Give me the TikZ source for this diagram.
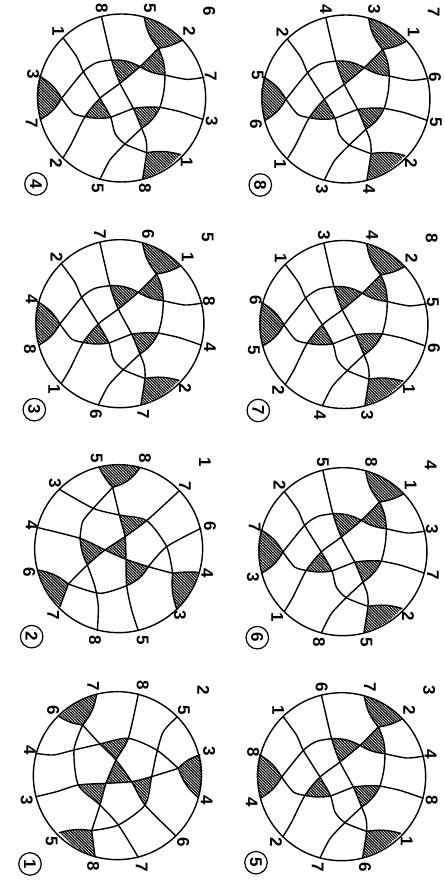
\documentclass[tikz,border=0pt]{standalone}
\usepackage{fontspec}
\setmainfont{Liberation Sans}
\usetikzlibrary{patterns.meta}
\tikzset{
  strand/.style={line width=1.4pt, line cap=round},
  rim/.style={line width=1.4pt},
  hatch/.style={pattern={Lines[angle=-45,distance=2pt,line width=1.15pt]}},
  lab/.style={rotate=-90, inner sep=0pt, font=\bfseries\fontsize{17}{17}\selectfont},
  badge/.style={draw, circle, line width=1.2pt, rotate=-90, inner sep=0pt, minimum size=22.5pt, font=\bfseries\fontsize{17}{17}\selectfont},
  panel/.style={x=.3333pt, y=-.3333pt},
  smooth/.append style={tension=.45}
}
\begin{document}
\begin{tikzpicture}[x=1pt, y=-1pt]
    \useasboundingbox (0,0) rectangle (444,885);

    % the six panels with one layout
    \foreach \sx/\sy/\la/\lb/\lc/\ld/\lf/\le/\lo/\num in {
        0/0/1/8/5/2/7/3/6/4, 224.3/1/2/4/3/1/6/5/7/8,
        -1.7/225.7/2/7/6/1/8/4/5/3, 222.3/226.5/1/3/4/2/5/6/8/7,
        221.3/453.7/2/5/8/1/3/7/4/6, 220/678.7/1/6/7/2/4/8/3/5} {
    \begin{scope}[shift={(\sx,\sy)}, panel]
        % strand ends
        \coordinate (a1) at (190,115); \coordinate (b1) at (305,52);
        \coordinate (c1) at (433,52); \coordinate (d1) at (548,120);
        \coordinate (f1) at (612,232); \coordinate (e1) at (608,358);
        \coordinate (a2) at (542,464); \coordinate (b2) at (428,536);
        \coordinate (c2) at (300,538); \coordinate (d2) at (190,472);
        \coordinate (f2) at (122,358); \coordinate (e2) at (118,228);

        % crossings
        \coordinate (ef) at (185,295); \coordinate (ad) at (300,295);
        \coordinate (af) at (250,215); \coordinate (de) at (255,350);
        \coordinate (ae) at (332,352); \coordinate (bf) at (335,180);
        \coordinate (df) at (420,200); \coordinate (bd) at (360,250);
        \coordinate (cf) at (495,225); \coordinate (cd) at (475,145);
        \coordinate (be) at (400,325); \coordinate (ce) at (480,322);
        \coordinate (bc) at (425,385); \coordinate (ac) at (375,432);
        \coordinate (ab) at (440,458);

        % shaded parts
        \fill[hatch] (e2) to[bend right=15] (f2) to[bend right=15] (ef) to[bend right=15] (e2);
        \fill[hatch] (de) to[bend right=10] (ae) -- (ad) -- (de);
        \fill[hatch] (bf) to[bend left=15] (df) -- (bd) -- (bf);
        \fill[hatch] (df) to[bend right=12] (cf) to[bend right=12] (cd) -- (df);
        \fill[hatch] (be) to[bend left=5] (ce) to[bend left=15] (bc) -- (be);
        \fill[hatch] (c1) to[bend left=15] (d1) to[bend left=10] (cd) to[bend left=15] (c1);
        \fill[hatch] (b2) to[bend right=15] (a2) to[bend right=12] (ab) -- (b2);

        % strands
        \draw[strand] plot[smooth] coordinates {(a1) (230,170) (af) (ad) (ae) (345,400) (ac) (ab)} (ab) to[bend left=12] (a2);
        \draw[strand] plot[smooth] coordinates {(b2) (ab) (438,420) (bc) (be) (bd) (bf) (b1)};
        \draw[strand] plot[smooth] coordinates {(c2) (330,480) (ac) (bc)} (bc) to[bend right=15] (ce) to[bend right=8] (cf) to[bend right=12] (cd) to[bend left=15] (c1);
        \draw[strand] (d1) to[bend left=10] (cd) plot[smooth] coordinates {(cd) (df) (bd) (ad) (de) (215,430) (d2)};
        \draw[strand] (e2) to[bend left=15] (ef) plot[smooth] coordinates {(ef) (220,340) (de)} (de) to[bend right=10] (ae) -- (be) to[bend left=5] (ce) plot[smooth] coordinates {(ce) (540,335) (e1)};
        \draw[strand] (f2) to[bend right=15] (ef) plot[smooth] coordinates {(ef) (af) (290,188) (bf)} (bf) to[bend left=15] (df) to[bend right=12] (cf) plot[smooth] coordinates {(cf) (560,238) (f1)};
        \draw[rim] (365,294) circle (252);

        % labels
        \node[lab] (la1) at (175,95) {\la};   \node[lab] (lb1) at (305,25) {\lb};
        \node[lab] (lc1) at (450,25) {\lc};   \node[lab] (ld1) at (568,95) {\ld};
        \node[lab] (lf1) at (632,228) {\lf};  \node[lab] (le1) at (635,365) {\le};
        \node[lab] (la2) at (560,487) {\la};  \node[lab] (lb2) at (435,565) {\lb};
        \node[lab] (lc2) at (293,565) {\lc};  \node[lab] (ld2) at (168,490) {\ld};
        \node[lab] (lf2) at (95,370) {\lf};   \node[lab] (le2) at (100,222) {\le};
        \node[lab] (lo) at (628,35) {\lo};
        \node[badge] (num) at (108,552) {\num};
    \end{scope}
    }

    % panel 2
    \begin{scope}[shift={(0,440)}, panel]
        \coordinate (tl) at (298,83); \coordinate (tr) at (420,83);
        \coordinate (a1) at (178,148); \coordinate (b1) at (535,155);
        \coordinate (c1) at (110,262); \coordinate (d1) at (603,265);
        \coordinate (d2) at (112,390); \coordinate (c2) at (595,397);
        \coordinate (b2) at (180,500); \coordinate (a2) at (530,507);
        \coordinate (bl) at (292,572); \coordinate (br) at (415,572);

        \coordinate (p1) at (338,142); \coordinate (p2) at (358,225);
        \coordinate (p3) at (440,242); \coordinate (p4) at (375,290);
        \coordinate (p5) at (315,330); \coordinate (p6) at (240,295);
        \coordinate (p7) at (262,375); \coordinate (p8) at (378,358);
        \coordinate (p9) at (445,380); \coordinate (p10) at (380,437);
        \coordinate (p11) at (518,400); \coordinate (p12) at (205,432);
        \coordinate (p13) at (500,320); \coordinate (p14) at (280,205);

        % shaded parts
        \fill[hatch] (tl) to[bend left=14] (tr) to[bend left=20] (p1) to[bend left=8] (tl);
        \fill[hatch] (p2) -- (p3) -- (p4) -- (p2);
        \fill[hatch] (p6) -- (p5) -- (p7) to[bend left=10] (p6);
        \fill[hatch] (p4) -- (p8) -- (p5) -- (p4);
        \fill[hatch] (p8) -- (p9) to[bend left=18] (p10) -- (p8);
        \fill[hatch] (p11) to[bend left=6] (c2) to[bend left=14] (a2) to[bend left=12] (p11);
        \fill[hatch] (d2) to[bend left=15] (p12) -- (b2) to[bend left=14] (d2);

        % strands
        \draw[strand] plot[smooth] coordinates {(a1) (p14) (p2) (p3) (p13) (p11)} (p11) to[bend right=12] (a2);
        \draw[strand] plot[smooth] coordinates {(b1) (p3) (p4) (p5) (p7) (p12)} (p12) -- (b2);
        \draw[strand] plot[smooth] coordinates {(c1) (p6) (p5) (p8) (p9) (p11)} (p11) to[bend left=6] (c2);
        \draw[strand] (d2) to[bend left=15] (p12) plot[smooth] coordinates {(p12) (300,460) (p10)} (p10) to[bend right=18] (p9) plot[smooth] coordinates {(p9) (p13) (d1)};
        \draw[strand] plot[smooth] coordinates {(bl) (295,500) (285,440) (p7)} (p7) to[bend left=10] (p6) plot[smooth] coordinates {(p6) (248,245) (p14) (p1)} (p1) to[bend right=20] (tr);
        \draw[strand] (tl) to[bend right=8] (p1) plot[smooth] coordinates {(p1) (p2) (p4) (p8) (p10) (395,510) (br)};
        \draw[rim] (356,326) circle (252);

        % labels
        \node[lab] (t5) at (290,55) {5};   \node[lab] (t8) at (435,55) {8};
        \node[lab] (t3) at (165,130) {3};  \node[lab] (t7) at (555,140) {7};
        \node[lab] (t4) at (95,255) {4};   \node[lab] (t6) at (630,258) {6};
        \node[lab] (m6) at (88,398) {6};   \node[lab] (m4) at (622,400) {4};
        \node[lab] (m7) at (160,525) {7};  \node[lab] (m3) at (540,525) {3};
        \node[lab] (b8) at (285,600) {8};  \node[lab] (b5) at (428,600) {5};
        \node[lab] (lo) at (615,68) {1};
        \node[badge] (num) at (95,590) {2};
    \end{scope}

    % panel 1
    \begin{scope}[shift={(0,660)}, panel]
        \coordinate (tl) at (290,102); \coordinate (tr) at (415,102);
        \coordinate (a1) at (178,170); \coordinate (b1) at (530,172);
        \coordinate (c1) at (108,280); \coordinate (d1) at (600,285);
        \coordinate (d2) at (108,410); \coordinate (c2) at (595,413);
        \coordinate (b2) at (178,518); \coordinate (a2) at (527,527);
        \coordinate (bl) at (285,590); \coordinate (br) at (415,592);

        \coordinate (p1) at (248,195); \coordinate (p2) at (300,252);
        \coordinate (p3) at (385,235); \coordinate (p4) at (348,300);
        \coordinate (p5) at (395,365); \coordinate (p6) at (318,370);
        \coordinate (p7) at (235,375); \coordinate (p8) at (300,435);
        \coordinate (p9) at (455,350); \coordinate (p10) at (435,435);
        \coordinate (p11) at (535,325); \coordinate (p12) at (275,512);
        \coordinate (p13) at (222,270); \coordinate (p14) at (355,495);

        % shaded parts
        \fill[hatch] (a1) to[bend left=14] (tl) to[bend left=15] (p1) to[bend left=12] (a1);
        \fill[hatch] (p2) -- (p3) -- (p4) -- (p2);
        \fill[hatch] (p4) -- (p5) -- (p6) -- (p4);
        \fill[hatch] (p7) -- (p6) -- (p8) -- (p7);
        \fill[hatch] (p5) -- (p9) -- (p10) -- (p5);
        \fill[hatch] (d1) to[bend right=15] (p11) to[bend right=15] (c2) to[bend right=15] (d1);
        \fill[hatch] (b2) to[bend right=14] (bl) -- (p12) to[bend right=12] (b2);

        % strands
        \draw[strand] (a1) to[bend right=12] (p1) plot[smooth] coordinates {(p1) (p2) (p4) (p5) (p10) (a2)};
        \draw[strand] (tl) to[bend left=15] (p1) plot[smooth] coordinates {(p1) (p13) (p7) (p8) (p14) (br)};
        \draw[strand] plot[smooth] coordinates {(tr) (p3) (p4) (p6) (p8) (p12)} (p12) -- (bl);
        \draw[strand] plot[smooth] coordinates {(c1) (160,285) (p13) (p2) (p3) (470,270) (p11)} (p11) to[bend right=15] (c2);
        \draw[strand] plot[smooth] coordinates {(d2) (170,395) (p7) (p6) (p5) (p9) (p11)} (p11) to[bend left=15] (d1);
        \draw[strand] plot[smooth] coordinates {(b1) (490,215) (470,280) (p9) (p10) (p14) (p12)} (p12) to[bend right=12] (b2);
        \draw[rim] (352,347) circle (252);

        % labels
        \node[lab] (t7) at (280,80) {7};   \node[lab] (t8) at (428,75) {8};
        \node[lab] (t6) at (160,150) {6};  \node[lab] (t5) at (552,150) {5};
        \node[lab] (t4) at (90,272) {4};   \node[lab] (t3) at (628,275) {3};
        \node[lab] (m3) at (80,420) {3};   \node[lab] (m4) at (620,422) {4};
        \node[lab] (m5) at (155,545) {5};  \node[lab] (m6) at (550,548) {6};
        \node[lab] (b8) at (280,620) {8};  \node[lab] (b7) at (425,622) {7};
        \node[lab] (lo) at (610,90) {2};
        \node[badge] (num) at (90,612) {1};
    \end{scope}
\end{tikzpicture}
\end{document}
